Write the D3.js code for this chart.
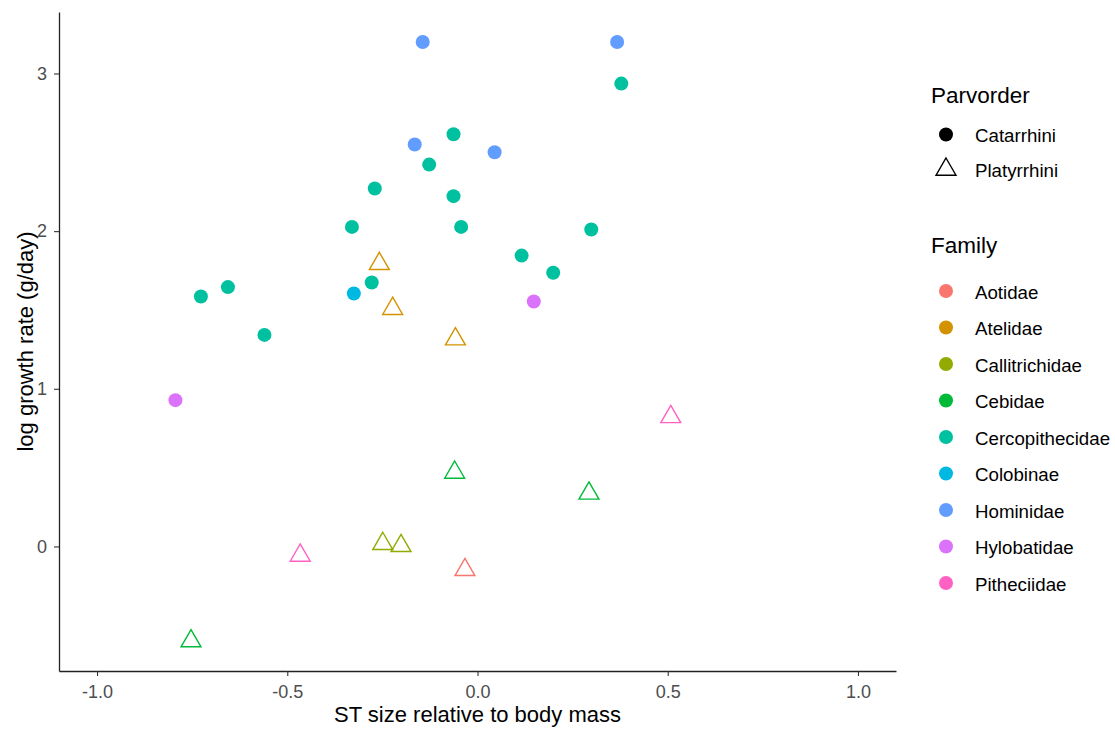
<!DOCTYPE html>
<html>
<head>
<meta charset="utf-8">
<script src="https://cdn.jsdelivr.net/npm/d3@7"></script>
<style>
  body { margin: 0; background: #fff; }
  text { font-family: "Liberation Sans", Arial, sans-serif; }
</style>
</head>
<body>
<div id="chart"></div>
<script>
// legend categories
const parvorders = ["Catarrhini", "Platyrrhini"];
const families = ["Aotidae", "Atelidae", "Callitrichidae", "Cebidae", "Cercopithecidae",
                  "Colobinae", "Hominidae", "Hylobatidae", "Pitheciidae"];
const familyColors = ["#F8766D", "#D39200", "#93AA00", "#00BA38", "#00C19F",
                      "#00B9E3", "#619CFF", "#DB72FB", "#FF61C3"];

// one entry per species
const pointFamily = [
  "Hominidae", "Hominidae", "Hominidae", "Hominidae",
  "Cercopithecidae", "Cercopithecidae", "Cercopithecidae", "Cercopithecidae", "Cercopithecidae",
  "Cercopithecidae", "Cercopithecidae", "Cercopithecidae", "Cercopithecidae", "Cercopithecidae",
  "Cercopithecidae", "Cercopithecidae", "Cercopithecidae", "Cercopithecidae",
  "Colobinae", "Hylobatidae", "Hylobatidae",
  "Atelidae", "Atelidae", "Atelidae",
  "Cebidae", "Cebidae", "Cebidae",
  "Pitheciidae", "Pitheciidae", "Aotidae",
  "Callitrichidae", "Callitrichidae"
];
const pointParvorder = [
  "Catarrhini", "Catarrhini", "Catarrhini", "Catarrhini",
  "Catarrhini", "Catarrhini", "Catarrhini", "Catarrhini", "Catarrhini",
  "Catarrhini", "Catarrhini", "Catarrhini", "Catarrhini", "Catarrhini",
  "Catarrhini", "Catarrhini", "Catarrhini", "Catarrhini",
  "Catarrhini", "Catarrhini", "Catarrhini",
  "Platyrrhini", "Platyrrhini", "Platyrrhini",
  "Platyrrhini", "Platyrrhini", "Platyrrhini",
  "Platyrrhini", "Platyrrhini", "Platyrrhini",
  "Platyrrhini", "Platyrrhini"
];
const stSize = [
  -0.144, 0.367, -0.165, 0.045,
  0.378, -0.063, -0.063, -0.043, 0.299,
  0.116, 0.199, -0.127, -0.270, -0.330,
  -0.278, -0.727, -0.656, -0.560,
  -0.325, 0.148, -0.794,
  -0.258, -0.223, -0.058,
  -0.060, 0.293, -0.753,
  0.508, -0.466, -0.033,
  -0.249, -0.201
];
const growthRate = [
  3.20, 3.20, 2.55, 2.50,
  2.936, 2.615, 2.222, 2.027, 2.010,
  1.845, 1.736, 2.422, 2.270, 2.027,
  1.674, 1.585, 1.645, 1.342,
  1.604, 1.554, 0.928,
  1.793, 1.508, 1.315,
  0.469, 0.337, -0.600,
  0.822, -0.057, -0.148,
  0.017, 0.004
];
const xTicks = [-1.0, -0.5, 0.0, 0.5, 1.0];
const yTicks = [0, 1, 2, 3];

const width = 1115;
const height = 729;
const margin = {left: 59, right: 219, top: 12, bottom: 58};

const data = stSize.map((x, i) => ({
  x: x, y: growthRate[i], family: pointFamily[i], parvorder: pointParvorder[i]
}));

// ggplot style 5% expansion
function expand(ext) {
  const d = (ext[1] - ext[0]) * 0.05;
  return [ext[0] - d, ext[1] + d];
}

const xScale = d3.scaleLinear()
  .domain(expand([-1, 1]))
  .range([margin.left, width - margin.right]);

const yScale = d3.scaleLinear()
  .domain(expand(d3.extent(growthRate)))
  .range([height - margin.bottom, margin.top]);

const colour = d3.scaleOrdinal().domain(families).range(familyColors);
const shape = d3.scaleOrdinal().domain(parvorders).range([d3.symbolCircle, d3.symbolTriangle]);
const symSize = {Catarrhini: Math.PI * 7 * 7, Platyrrhini: 172};

// plain hyphen for negatives, like R does
const fmt1 = d => d3.format(".1f")(d).replace("\u2212", "-");

const svg = d3.select("#chart")
  .append("svg")
  .attr("width", width)
  .attr("height", height);

// axes
const xAxis = svg.append("g")
  .attr("transform", `translate(0,${height - margin.bottom})`)
  .call(d3.axisBottom(xScale).tickValues(xTicks).tickFormat(fmt1)
    .tickSize(5).tickPadding(9).tickSizeOuter(0));

const yAxis = svg.append("g")
  .attr("transform", `translate(${margin.left},0)`)
  .call(d3.axisLeft(yScale).tickValues(yTicks).tickFormat(d3.format("d"))
    .tickSize(5).tickPadding(7).tickSizeOuter(0));

[xAxis, yAxis].forEach(g => {
  g.select(".domain").attr("stroke", "#222").attr("stroke-width", 1.3);
  g.selectAll(".tick line").attr("stroke", "#333").attr("stroke-width", 1.1);
  g.selectAll(".tick text").attr("fill", "#4D4D4D").style("font-size", "18px")
    .style("font-family", '"Liberation Sans", Arial, sans-serif');
});

svg.append("text")
  .attr("x", (xScale.range()[0] + xScale.range()[1]) / 2)
  .attr("y", 722)
  .attr("text-anchor", "middle")
  .style("font-size", "22px")
  .attr("fill", "#000")
  .text("ST size relative to body mass");

svg.append("text")
  .attr("transform", `translate(33,${(yScale.range()[0] + yScale.range()[1]) / 2}) rotate(-90)`)
  .attr("text-anchor", "middle")
  .style("font-size", "22px")
  .attr("fill", "#000")
  .text("log growth rate (g/day)");

// points
svg.append("g")
  .selectAll("path")
  .data(data)
  .join("path")
  .attr("transform", d => `translate(${xScale(d.x)},${yScale(d.y)})`)
  .attr("d", d => d3.symbol(shape(d.parvorder), symSize[d.parvorder])())
  .attr("fill", d => d.parvorder === "Catarrhini" ? colour(d.family) : "none")
  .attr("stroke", d => d.parvorder === "Catarrhini" ? "none" : colour(d.family))
  .attr("stroke-width", 1.4);

// legends
const lx = 931;
const legend = svg.append("g");

legend.append("text")
  .attr("x", lx).attr("y", 103)
  .style("font-size", "22.5px")
  .text("Parvorder");

const pItems = legend.selectAll("g.pv")
  .data(parvorders)
  .join("g")
  .attr("class", "pv")
  .attr("transform", (d, i) => `translate(946,${134.5 + i * 35})`);

pItems.append("path")
  .attr("d", d => d3.symbol(shape(d), symSize[d])())
  .attr("fill", d => d === "Catarrhini" ? "#000" : "none")
  .attr("stroke", d => d === "Catarrhini" ? "none" : "#000")
  .attr("stroke-width", 1.4);

pItems.append("text")
  .attr("x", 29).attr("y", 7.5)
  .style("font-size", "18.7px")
  .text(d => d);

legend.append("text")
  .attr("x", lx).attr("y", 253)
  .style("font-size", "22.5px")
  .text("Family");

const fItems = legend.selectAll("g.fam")
  .data(families)
  .join("g")
  .attr("class", "fam")
  .attr("transform", (d, i) => `translate(946,${291 + i * 36.5})`);

fItems.append("circle")
  .attr("r", 7)
  .attr("fill", d => colour(d));

fItems.append("text")
  .attr("x", 29).attr("y", 7.5)
  .style("font-size", "18.7px")
  .text(d => d);
</script>
</body>
</html>
